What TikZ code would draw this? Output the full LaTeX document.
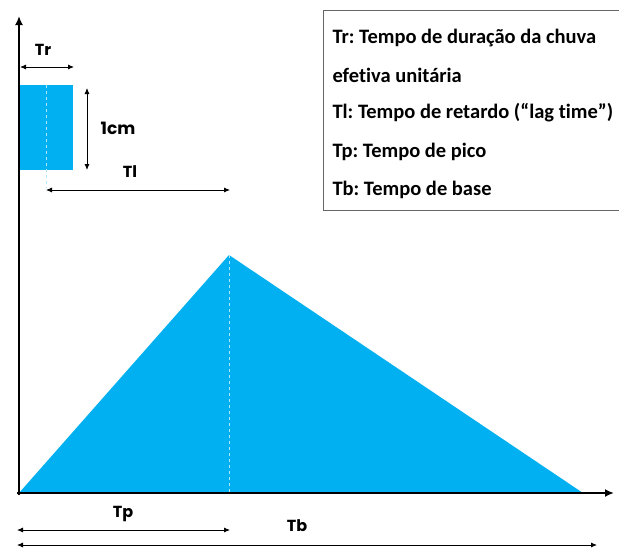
\documentclass[tikz,border=0pt]{standalone}
\usepackage{fontspec}
\setmainfont{Carlito}[Ligatures=NoCommon]
\newfontfamily\geofont{Poppins}
\usetikzlibrary{arrows.meta}
\definecolor{hydroblue}{RGB}{0,176,240}
\frenchspacing
\tikzset{
  axis/.style={line width=2.4pt,-{Latex[length=9pt,width=8pt]}},
  dim/.style={line width=0.8pt,{Latex[length=6pt,width=5pt]}-{Latex[length=6pt,width=5pt]}},
  tag/.style={font=\geofont\bfseries\fontsize{16}{18}\selectfont},
  legend/.style={anchor=west,font=\bfseries\fontsize{20.5}{23}\selectfont},
  split/.style={white!70!hydroblue,dashed,line width=0.8pt}
}

\begin{document}
\begin{tikzpicture}[x=1pt,y=-1pt]
  \useasboundingbox (0,0) rectangle (619,549);
  % key points
  \coordinate (O) at (19,493);
  \coordinate (ytop) at (19,16);
  \coordinate (xend) at (614,493);
  \coordinate (peak) at (229,255);
  \coordinate (tbend) at (583,493);
  % hydrograph
  \fill[hydroblue] (O) -- (peak) -- (tbend) -- cycle;
  \draw[split] (peak) -- (229,493);
  % unit rain block
  \fill[hydroblue] (20,85) rectangle (73,170);
  \draw[split] (46,85) -- (46,188);
  % axes
  \draw[axis] (19,495) -- (ytop);
  \draw[axis] (17,493) -- (xend);
  % dimensions
  \coordinate (tr0) at (20,67);  \coordinate (tr1) at (74,67);
  \draw[dim] (tr0) -- (tr1);
  \node[tag] (tr) at (43,50) {Tr};
  \coordinate (h0) at (87,88);  \coordinate (h1) at (87,170);
  \draw[dim] (h0) -- (h1);
  \node[tag,font=\geofont\bfseries\fontsize{17}{19}\selectfont] (cm) at (118,128) {1cm};
  \coordinate (tl0) at (46,190);  \coordinate (tl1) at (230,190);
  \draw[dim] (tl0) -- (tl1);
  \node[tag] (tl) at (130,172) {Tl};
  \coordinate (tp0) at (17,530);  \coordinate (tp1) at (230,530);
  \draw[dim] (tp0) -- (tp1);
  \node[tag] (tp) at (123,514) {Tp};
  \coordinate (tb0) at (17,545);  \coordinate (tb1) at (597,545);
  \draw[dim] (tb0) -- (tb1);
  \node[tag] (tb) at (297,526) {Tb};
  % legend
  \draw[line width=0.8pt,black!60] (323,10) rectangle (640,210);
  \node[legend] (l1) at (329,38) {Tr: Tempo de duração da chuva};
  \node[legend] (l2) at (329,75) {efetiva unitária};
  \node[legend] (l3) at (329,113) {Tl: Tempo de retardo (“lag time”)};
  \node[legend] (l4) at (329,152) {Tp: Tempo de pico};
  \node[legend] (l5) at (329,190) {Tb: Tempo de base};
\end{tikzpicture}
\end{document}
